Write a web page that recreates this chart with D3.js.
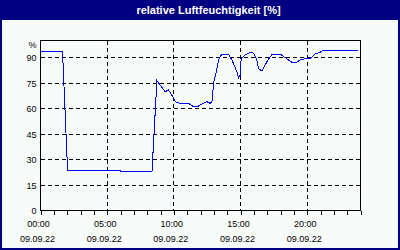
<!DOCTYPE html>
<html>
<head>
  <meta charset="utf-8">
  <title>relative Luftfeuchtigkeit</title>
  <script src="https://d3js.org/d3.v7.min.js"></script>
  <style>
    body { margin: 0; }
    svg { display: block; }
  </style>
</head>
<body>
<script type="text/javascript">

  // hours since 00:00 on 09.09.22 and humidity in %
  var hours  = [0, 1.65, 2.03, 5.98, 6.0, 8.36, 8.73, 9.35, 9.6, 9.93, 10.1, 10.48, 11.1, 11.48, 11.73, 12.1, 12.48, 12.73, 12.86, 12.98, 13.18, 13.35, 13.6, 14.1, 14.36, 14.73, 14.85, 14.98, 15.05, 15.35, 15.73, 15.98, 16.23, 16.35, 16.6, 16.98, 17.36, 18.0, 18.35, 18.86, 19.18, 19.48, 19.98, 20.23, 20.6, 20.98, 21.18, 23.8];
  var humid  = [93.8, 93.8, 23.8, 23.8, 22.8, 22.8, 76.4, 69.9, 70.9, 66.9, 64, 63, 63, 61, 61, 62.5, 64, 63, 64, 74.8, 81.6, 88.5, 92, 92, 88.5, 81.6, 77.8, 79.7, 89.5, 91.5, 93, 92.5, 88.5, 83.6, 82, 87.5, 91.9, 91.9, 89.9, 87.2, 87.2, 88.5, 89.5, 89.5, 92, 93, 94.4, 94.4];

  var yTicks = [0, 15, 30, 45, 60, 75, 90];
  var gridHours = [5, 10, 15, 20];
  var timeLabels = ["00:00", "05:00", "10:00", "15:00", "20:00"];
  var labelHours = [0, 5, 10, 15, 20];
  var dateLabel = "09.09.22";

  var w = 400, h = 250;
  var navy = "#000080";

  var svg = d3.select("body").append("svg")
      .attr("width", w)
      .attr("height", h)
      .style("font-family", "'Liberation Sans', Arial, sans-serif");

  svg.append("rect").attr("width", w).attr("height", h).attr("fill", navy);
  svg.append("rect")
      .attr("x", 2).attr("y", 20)
      .attr("width", w - 4).attr("height", h - 22)
      .attr("fill", "#f8fcf8");

  svg.append("text")
      .attr("x", 208.5).attr("y", 14)
      .attr("text-anchor", "middle")
      .attr("fill", "white")
      .style("font-weight", "bold")
      .style("font-size", "11px")
      .text("relative Luftfeuchtigkeit [%]");

  var x = d3.scaleLinear().domain([0, 24]).range([40.5, 360.5]);
  var y = d3.scaleLinear().domain([0, 100]).range([210.5, 40.5]);

  // dashed grid
  svg.selectAll(".hgrid")
      .data(yTicks.filter(function(d){ return d > 0; }))
      .enter().append("line")
      .attr("x1", x(0)).attr("x2", x(24))
      .attr("y1", function(d){ return y(d); })
      .attr("y2", function(d){ return y(d); })
      .attr("stroke", "black")
      .attr("stroke-dasharray", "4,3")
      .attr("shape-rendering", "crispEdges");

  svg.selectAll(".vgrid")
      .data(gridHours)
      .enter().append("line")
      .attr("x1", function(d){ return x(d); })
      .attr("x2", function(d){ return x(d); })
      .attr("y1", y(100)).attr("y2", y(0))
      .attr("stroke", "black")
      .attr("stroke-dasharray", "4,3")
      .attr("shape-rendering", "crispEdges");

  // frame
  svg.append("rect")
      .attr("x", x(0)).attr("y", y(100))
      .attr("width", x(24) - x(0)).attr("height", y(0) - y(100))
      .attr("fill", "none")
      .attr("stroke", "black")
      .attr("shape-rendering", "crispEdges");

  // hourly ticks on bottom
  var xAxis = d3.axisBottom(x)
      .tickValues(d3.range(0, 25))
      .tickSize(4)
      .tickFormat("");
  var gx = svg.append("g")
      .attr("transform", "translate(0," + y(0) + ")")
      .call(xAxis);
  gx.select(".domain").remove();
  gx.selectAll("line").attr("shape-rendering", "crispEdges");

  // y labels
  svg.selectAll(".ylab")
      .data(yTicks)
      .enter().append("text")
      .attr("x", 36.5)
      .attr("y", function(d){ return y(d) + 3.5; })
      .attr("text-anchor", "end")
      .style("font-size", "9px")
      .text(function(d){ return d; });

  svg.append("text")
      .attr("x", 36.5).attr("y", 47.5)
      .attr("text-anchor", "end")
      .style("font-size", "9px")
      .text("%");

  // x labels
  svg.selectAll(".xlab")
      .data(labelHours)
      .enter().append("text")
      .attr("x", function(d){ return x(d) - 2; })
      .attr("y", 226.5)
      .attr("text-anchor", "middle")
      .style("font-size", "9px")
      .text(function(d, i){ return timeLabels[i]; });

  svg.selectAll(".dlab")
      .data(labelHours)
      .enter().append("text")
      .attr("x", function(d){ return x(d) - 3; })
      .attr("y", 242)
      .attr("text-anchor", "middle")
      .style("font-size", "9px")
      .text(dateLabel);

  // humidity line
  var points = hours.map(function(d, i){ return [d, humid[i]]; });
  var line = d3.line()
      .x(function(d){ return x(d[0]); })
      .y(function(d){ return y(d[1]); });

  svg.append("path")
      .datum(points)
      .attr("d", line)
      .attr("fill", "none")
      .attr("stroke", "#0000ff")
      .attr("stroke-width", 1)
      .attr("shape-rendering", "crispEdges");

</script>
</body>
</html>
